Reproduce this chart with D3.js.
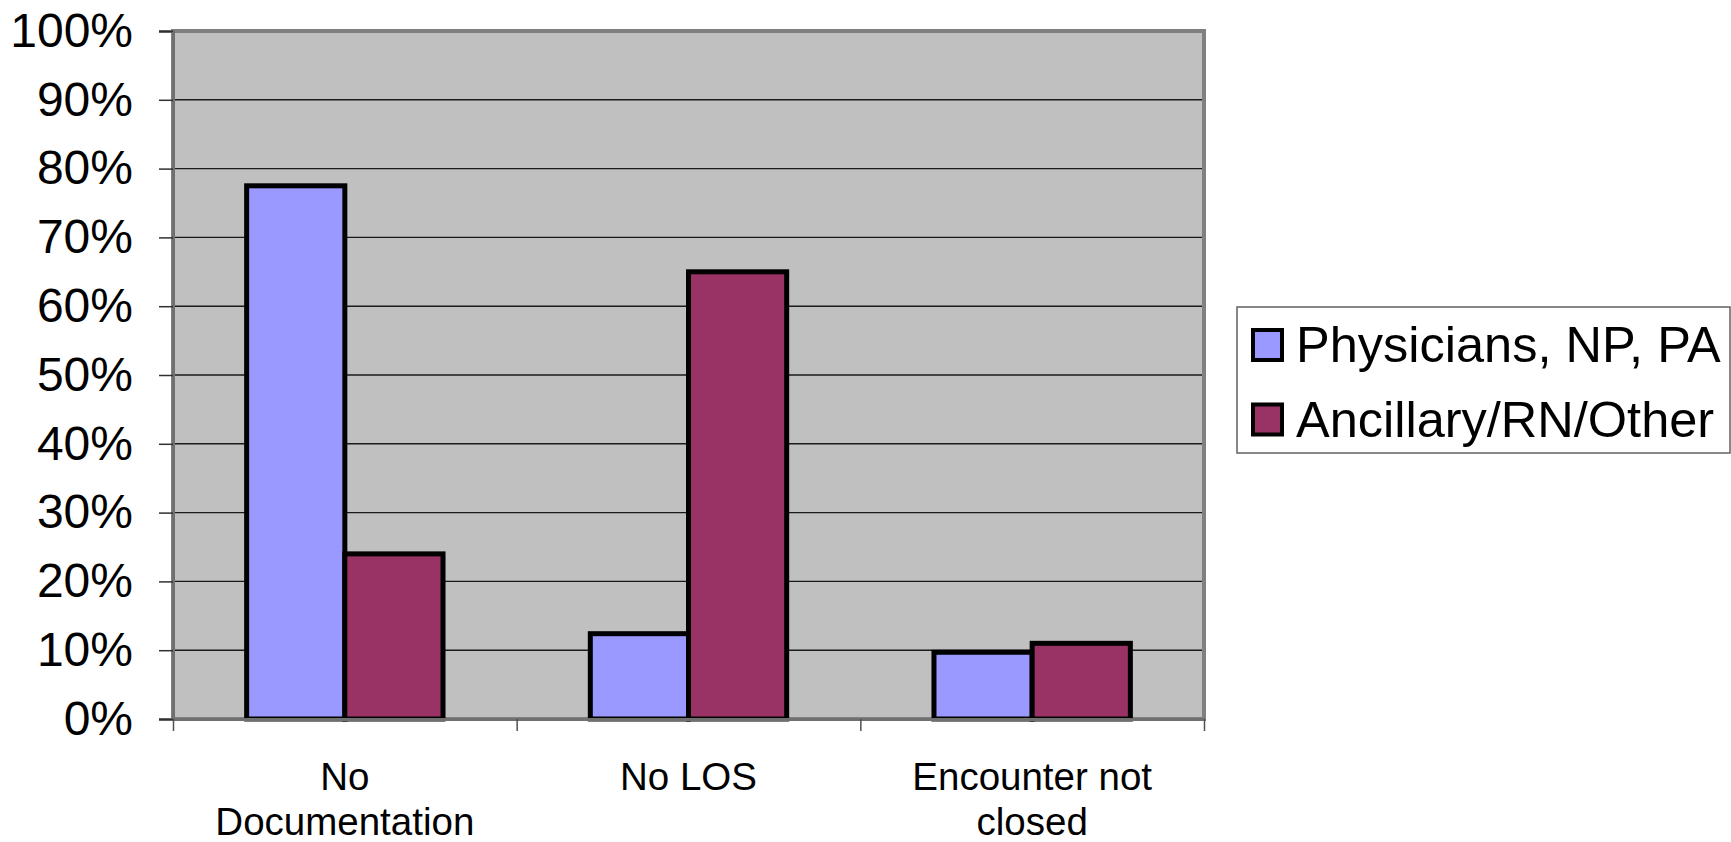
<!DOCTYPE html>
<html>
<head>
<meta charset="utf-8">
<script src="https://cdn.jsdelivr.net/npm/d3@7"></script>
<style>
  html, body { margin: 0; padding: 0; background: #ffffff; overflow: hidden; }
  svg { display: block; font-family: "Liberation Sans", Arial, sans-serif; }
</style>
</head>
<body>
<svg id="chart" width="1731" height="842"></svg>
<script>
// Share of issues by category and staff group (percent)
const categories = ["No Documentation", "No LOS", "Encounter not closed"];
const categoryLines = [["No", "Documentation"], ["No LOS"], ["Encounter not", "closed"]];
const seriesNames = ["Physicians, NP, PA", "Ancillary/RN/Other"];
const physicians = [77.5, 12.4, 9.7];
const ancillary = [24.0, 65.0, 11.0];
const seriesColors = ["#9999FF", "#993366"];
const yTicks = [0, 10, 20, 30, 40, 50, 60, 70, 80, 90, 100];

const seriesValues = [physicians, ancillary];

const svg = d3.select("#chart");

const plot = { left: 173, right: 1204, top: 31, bottom: 719 };

const y = d3.scaleLinear().domain([0, 100]).range([plot.bottom, plot.top]);
const x0 = d3.scaleBand().domain(categories).range([plot.left, plot.right]).padding(0);
const x1 = d3.scaleBand().domain(seriesNames).range([0, x0.bandwidth()])
  .paddingInner(0).paddingOuter(0.75);
const xEdge = d3.scaleLinear().domain([0, categories.length]).range([plot.left, plot.right]);

// plot area background and frame
svg.append("rect")
  .attr("x", plot.left).attr("y", plot.top)
  .attr("width", plot.right - plot.left).attr("height", plot.bottom - plot.top)
  .attr("fill", "#C0C0C0")
  .attr("stroke", "#808080").attr("stroke-width", 4);

// horizontal gridlines
svg.append("g")
  .selectAll("line")
  .data(yTicks.filter(d => d > 0 && d < 100))
  .join("line")
  .attr("x1", plot.left).attr("x2", plot.right - 2)
  .attr("y1", d => y(d)).attr("y2", d => y(d))
  .attr("stroke", "#1a1a1a").attr("stroke-width", 1.4);

// bars
const groups = svg.append("g")
  .selectAll("g")
  .data(categories)
  .join("g")
  .attr("transform", d => `translate(${x0(d)},0)`);

groups.selectAll("rect")
  .data((c, i) => seriesNames.map((s, k) => ({ series: s, k, value: seriesValues[k][i] })))
  .join("rect")
  .attr("x", d => x1(d.series))
  .attr("y", d => y(d.value))
  .attr("width", x1.bandwidth())
  .attr("height", d => y(0) - y(d.value))
  .attr("fill", d => seriesColors[d.k])
  .attr("stroke", "#000").attr("stroke-width", 5)
  .attr("stroke-linejoin", "miter");

// y axis
const yAxis = svg.append("g")
  .attr("transform", `translate(${plot.left},0)`)
  .call(d3.axisLeft(y).tickValues(yTicks).tickFormat(d => d + "%")
    .tickSize(14).tickPadding(26));
yAxis.select(".domain").attr("stroke", "#707070").attr("stroke-width", 3);
yAxis.selectAll(".tick line").attr("stroke", "#303030").attr("stroke-width", 1.5);
yAxis.selectAll(".tick text")
  .attr("font-size", 48).attr("fill", "#000")
  .attr("font-family", "'Liberation Sans', Arial, sans-serif");

// x axis with ticks between categories
const xAxis = svg.append("g")
  .attr("transform", `translate(0,${plot.bottom})`)
  .call(d3.axisBottom(xEdge).tickValues(d3.range(categories.length + 1))
    .tickFormat("").tickSize(12).tickSizeOuter(0));
xAxis.select(".domain").attr("stroke", "#707070").attr("stroke-width", 3);
xAxis.selectAll(".tick line").attr("stroke", "#505050").attr("stroke-width", 1.5);

// category labels
const catLabels = svg.append("g")
  .selectAll("text")
  .data(categories)
  .join("text")
  .attr("x", d => x0(d) + x0.bandwidth() / 2)
  .attr("y", 790)
  .attr("text-anchor", "middle")
  .attr("font-size", 38.5)
  .attr("fill", "#000");
catLabels.selectAll("tspan")
  .data((d, i) => categoryLines[i])
  .join("tspan")
  .attr("x", function () { return d3.select(this.parentNode).attr("x"); })
  .attr("dy", (d, i) => i === 0 ? 0 : 45)
  .text(d => d);

// legend
const legend = svg.append("g");
legend.append("rect")
  .attr("x", 1237).attr("y", 307)
  .attr("width", 493).attr("height", 146)
  .attr("fill", "#fff").attr("stroke", "#606060").attr("stroke-width", 1.5);

const items = legend.selectAll("g.item")
  .data(seriesNames)
  .join("g")
  .attr("class", "item")
  .attr("transform", (d, i) => `translate(0,${i * 74.5})`);

items.append("rect")
  .attr("x", 1253).attr("y", 330)
  .attr("width", 29).attr("height", 30)
  .attr("fill", (d, i) => seriesColors[i])
  .attr("stroke", "#000").attr("stroke-width", 4);

items.append("text")
  .attr("x", 1296).attr("y", 362)
  .attr("font-size", 50.5)
  .attr("fill", "#000")
  .text(d => d);
</script>
</body>
</html>
